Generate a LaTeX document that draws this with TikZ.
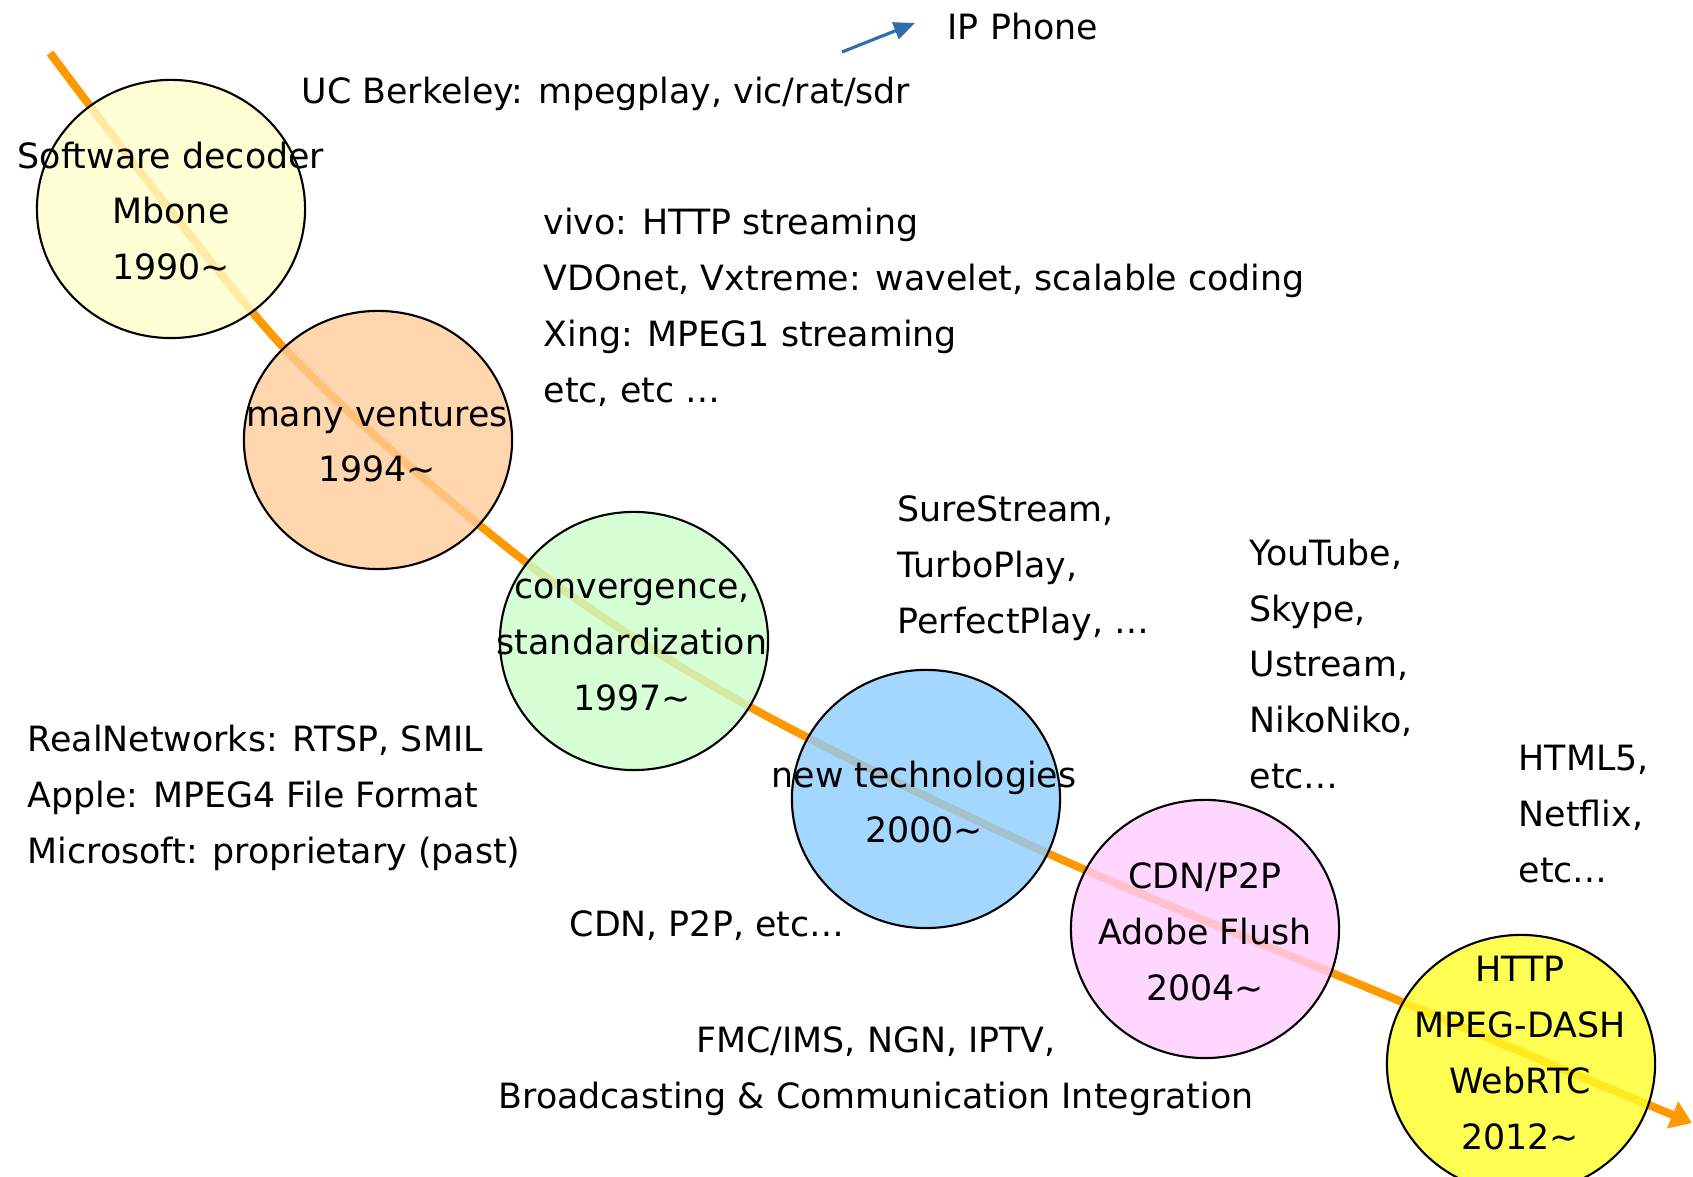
\documentclass[tikz,border=0pt]{standalone}
\usepackage{fontspec}
\setmainfont{DejaVu Sans}
\usetikzlibrary{arrows.meta,shapes.geometric}
\definecolor{trend}{RGB}{255,153,0}
\definecolor{phone}{RGB}{46,110,170}
\definecolor{c1990}{RGB}{255,255,204}
\definecolor{c1994}{RGB}{255,204,153}
\definecolor{c1997}{RGB}{204,255,204}
\definecolor{c2000}{RGB}{140,205,255}
\definecolor{c2004}{RGB}{255,204,255}
\definecolor{c2012}{RGB}{255,255,40}
\tikzset{
  era/.style={draw, line width=0.6pt, ellipse, minimum width=2.68cm, minimum height=2.58cm,
    inner sep=0pt, fill=#1, fill opacity=0.8},
  txt/.style={font=\fontsize{9.9pt}{15.9pt}\selectfont, inner sep=0pt},
}
\begin{document}
\begin{tikzpicture}[x=0.01cm,y=-0.01cm]
\useasboundingbox (0,0) rectangle (1693,1177);
\coordinate (t0) at (50,53);
\coordinate (t1) at (283,347);
\coordinate (t2) at (527,563);
\coordinate (t3) at (750,707);
\coordinate (t4) at (1047,853);
\coordinate (t5) at (1390,997);
\coordinate (t6) at (1692,1123);
\draw[trend, line width=2.3pt, -{Triangle[length=6pt,width=8pt]}]
  plot[smooth] coordinates {(t0) (t1) (t2) (t3) (t4) (t5) (t6)};

\node[era=c1990] (e1990) at (171,209) {};
\node[era=c1994] (e1994) at (378,440) {};
\node[era=c1997] (e1997) at (634,641) {};
\node[era=c2000] (e2000) at (926,799) {};
\node[era=c2004] (e2004) at (1205,929) {};
\node[era=c2012] (e2012) at (1521,1064) {};

\node[txt, align=center] (l1990) at (171,211) {Software decoder\\Mbone\\1990∼};
\node[txt, align=center] (l1994) at (377,442) {many ventures\\1994∼};
\node[txt, align=center] (l1997) at (632,645) {convergence,\\standardization\\1997∼};
\node[txt, align=center] (l2000) at (924,802) {new technologies\\2000∼};
\node[txt, align=center] (l2004) at (1205,932) {CDN/P2P\\Adobe Flush\\2004∼};
\node[txt, align=center] (l2012) at (1520,1053) {HTTP\\MPEG-DASH\\WebRTC\\2012∼};

\node[txt, anchor=west] (ipphone) at (947,27) {IP Phone};
\coordinate (ipa) at (842,52);
\coordinate (ipb) at (915,23);
\draw[phone, line width=0.9pt, -{Triangle[length=6pt,width=5pt]}] (ipa) -- (ipb);
\node[txt, anchor=west] (berkeley) at (301,94) {UC Berkeley: mpegplay, vic/rat/sdr};
\node[txt, anchor=west, align=left] (vivo) at (543,307) {vivo: HTTP streaming\\VDOnet, Vxtreme: wavelet, scalable coding\\Xing: MPEG1 streaming\\etc, etc …};
\node[txt, anchor=west, align=left] (sure) at (897,568) {SureStream,\\TurboPlay,\\PerfectPlay, …};
\node[txt, anchor=west, align=left] (youtube) at (1249,664) {YouTube,\\Skype,\\Ustream,\\NikoNiko,\\etc…};
\node[txt, anchor=west, align=left] (real) at (27,798) {RealNetworks: RTSP, SMIL\\Apple: MPEG4 File Format\\Microsoft: proprietary (past)};
\node[txt, anchor=west, align=left] (html) at (1518,814) {HTML5,\\Netflix,\\etc…};
\node[txt, anchor=west] (cdn) at (569,926) {CDN, P2P, etc…};
\node[txt, align=center] (fmc) at (876,1071) {FMC/IMS, NGN, IPTV,\\Broadcasting \& Communication Integration};
\end{tikzpicture}
\end{document}
